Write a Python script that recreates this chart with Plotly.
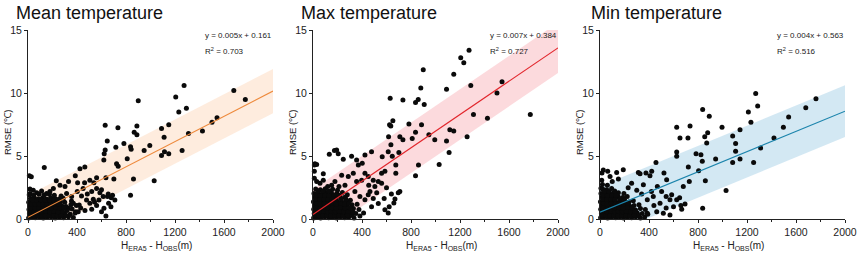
import plotly.graph_objects as go

# ---------------- data ----------------
panel_titles = ["Mean temperature", "Max temperature", "Min temperature"]
eq_texts = ["y = 0.005x + 0.161", "y = 0.007x + 0.384", "y = 0.004x + 0.563"]
r2_texts = ["0.703", "0.727", "0.516"]
fit_slope = [0.0050, 0.0066, 0.0040]
fit_intercept = [0.161, 0.384, 0.563]
band_half = [1.75, 2.0, 2.05]
x_ticks = [0, 400, 800, 1200, 1600, 2000]
y_ticks = [0, 5, 10, 15]

mean_points = [
    (1274, 10.6), (1680, 10.2), (1774, 9.5), (1206, 9.7), (900, 9.4), (1293, 8.8), (1231, 8.5),
    (630, 7.45), (734, 7.26), (889, 7.4), (1149, 7.5), (1090, 7.2), (867, 6.9), (889, 6.7),
    (647, 6.2), (1111, 6.5), (1310, 6.8), (1424, 7.0), (1502, 7.7), (1543, 8.05), (783, 6.0),
    (837, 5.75), (842, 5.55), (994, 5.85), (948, 5.45), (630, 5.5), (622, 5.2), (717, 5.7),
    (619, 4.7), (723, 4.4), (736, 4.2), (810, 4.8), (1090, 5.05), (1114, 5.35), (1149, 5.2),
    (1258, 5.45), (1030, 3.06), (861, 3.2), (701, 3.2), (636, 3.3), (837, 1.9), (636, 0.27),
    (133, 4.1), (464, 4.15), (424, 4.0), (11, 3.46), (27, 3.38), (505, 3.1), (462, 2.9),
    (386, 3.46), (405, 2.9), (331, 3.0), (261, 2.7), (231, 3.06), (560, 3.3), (538, 2.9),
    (560, 2.45), (587, 2.1), (579, 1.53), (614, 1.8), (649, 1.8), (658, 1.27), (677, 1.0),
    (709, 1.53), (620, 0.87), (505, 1.27), (478, 1.53), (437, 1.85), (402, 2.2), (356, 1.8),
    (315, 2.05), (288, 1.66), (418, 1.14), (465, 0.69), (484, 2.0), (533, 1.58), (543, 1.37),
    (370, 1.27), (329, 0.87), (302, 2.6), (207, 2.45), (179, 2.2), (152, 2.05), (111, 2.25),
    (71, 2.1), (43, 2.3), (16, 2.4), (16, 2.05), (680, 1.7), (690, 1.9), (655, 2.0), (600, 2.35),
    (520, 2.2), (450, 2.45), (390, 0.6), (430, 0.9), (520, 0.8), (560, 1.1), (600, 0.6),
]
mean_dense = [
    (5, 0.1), (30, 0.2), (60, 0.12), (92, 0.18), (125, 0.1), (158, 0.15), (190, 0.2), (222, 0.1),
    (255, 0.18), (290, 0.12), (330, 0.2), (370, 0.15),
    (12, 0.45), (40, 0.5), (70, 0.42), (100, 0.48), (132, 0.4), (165, 0.5), (198, 0.45), (230, 0.42),
    (262, 0.5), (300, 0.45), (345, 0.4), (385, 0.5),
    (8, 0.78), (30, 0.72), (58, 0.8), (88, 0.75), (118, 0.7), (150, 0.8), (182, 0.75), (215, 0.72),
    (248, 0.8), (280, 0.75), (320, 0.7), (360, 0.82), (410, 0.6),
    (15, 1.05), (45, 1.1), (75, 1.02), (105, 1.08), (138, 1.0), (170, 1.1), (205, 1.05), (240, 1.0),
    (275, 1.08), (310, 1.02), (350, 1.15), (395, 1.1),
    (6, 1.35), (36, 1.4), (66, 1.32), (98, 1.38), (130, 1.3), (160, 1.42), (195, 1.35), (232, 1.3),
    (265, 1.4), (300, 1.35), (355, 1.45),
    (20, 1.65), (52, 1.7), (85, 1.62), (118, 1.68), (150, 1.6), (185, 1.7), (220, 1.65), (255, 1.6),
    (10, 1.95), (45, 1.9), (90, 2.0), (130, 1.92), (175, 1.98), (215, 1.9), (270, 1.85),
    (18, 0.3), (48, 0.28), (78, 0.32), (110, 0.3), (142, 0.28), (175, 0.32), (208, 0.3), (240, 0.28),
    (272, 0.32), (312, 0.3), (20, 0.62), (50, 0.6), (82, 0.64), (112, 0.6), (145, 0.62), (178, 0.6),
    (210, 0.64), (245, 0.6), (282, 0.62), (25, 0.92), (60, 0.9), (90, 0.94), (122, 0.9), (155, 0.92),
    (190, 0.9), (225, 0.94), (258, 0.9), (295, 0.92), (28, 1.22), (58, 1.2), (90, 1.24), (120, 1.2),
    (152, 1.22), (185, 1.2), (218, 1.24), (252, 1.2), (35, 1.52), (70, 1.5), (105, 1.54), (140, 1.5),
    (175, 1.52), (210, 1.5), (240, 1.52),
]

max_points = [
    (1274, 13.4), (1206, 12.8), (1231, 12.4), (900, 11.85), (1149, 11.5), (1543, 10.9), (1090, 10.3),
    (880, 10.4), (1288, 10.6), (1502, 10.0), (630, 9.6), (859, 9.5), (734, 9.45), (908, 9.1),
    (837, 9.25), (1310, 8.3), (1424, 8.0), (1774, 8.3), (652, 7.8), (625, 7.5), (635, 7.4),
    (783, 7.55), (886, 7.5), (617, 6.55), (709, 6.55), (734, 6.3), (810, 6.4), (837, 6.9),
    (946, 6.7), (994, 6.3), (1090, 6.2), (1117, 7.1), (1149, 7.0), (1258, 6.55), (1111, 5.3),
    (1030, 4.35), (861, 4.3), (837, 3.45), (636, 5.9), (647, 5.0), (614, 5.35), (701, 5.3),
    (676, 4.3), (676, 3.65), (709, 2.2), (696, 2.1), (669, 1.6), (622, 1.0), (660, 1.3),
    (581, 1.65), (560, 2.85), (587, 3.8), (560, 3.65), (565, 4.95), (478, 5.35), (424, 5.1),
    (402, 4.45), (370, 4.3), (356, 4.7), (315, 5.0), (247, 4.75), (206, 5.2), (193, 5.5),
    (133, 5.15), (175, 5.45), (16, 4.4), (30, 4.35), (84, 3.6), (413, 0.5), (383, 0.26),
    (465, 2.2), (505, 2.6), (533, 3.0), (492, 3.1), (451, 3.4), (424, 3.65), (397, 3.1),
    (356, 3.0), (329, 3.65), (288, 3.4), (261, 2.7), (234, 3.5), (212, 2.6), (179, 3.0),
    (152, 2.7), (120, 2.6), (84, 3.1), (57, 2.85), (30, 3.0), (11, 3.25), (11, 3.8), (11, 4.3),
    (342, 2.2), (383, 1.8), (424, 1.55), (451, 1.95), (492, 1.65), (533, 1.25), (478, 1.0),
    (587, 0.75), (614, 0.5), (520, 2.1), (455, 2.7), (600, 2.5), (640, 2.0),
]
max_dense = [
    (5, 0.1), (32, 0.18), (62, 0.1), (95, 0.2), (128, 0.12), (160, 0.18), (192, 0.1), (225, 0.2),
    (258, 0.12), (292, 0.18), (335, 0.1),
    (10, 0.45), (40, 0.5), (72, 0.42), (104, 0.5), (136, 0.44), (168, 0.5), (200, 0.42), (234, 0.48),
    (268, 0.44), (305, 0.5), (350, 0.45),
    (6, 0.8), (34, 0.75), (64, 0.82), (96, 0.74), (126, 0.8), (158, 0.76), (190, 0.82), (222, 0.75),
    (255, 0.8), (290, 0.74), (330, 0.85), (375, 0.78),
    (14, 1.1), (46, 1.05), (78, 1.12), (110, 1.04), (142, 1.1), (174, 1.06), (208, 1.12), (242, 1.05),
    (278, 1.1), (318, 1.15), (360, 1.2),
    (4, 1.4), (36, 1.45), (68, 1.38), (100, 1.44), (132, 1.36), (166, 1.45), (200, 1.4), (236, 1.38),
    (272, 1.46), (305, 1.5),
    (18, 1.75), (50, 1.7), (82, 1.78), (116, 1.7), (150, 1.76), (186, 1.72), (222, 1.8), (260, 1.75),
    (8, 2.05), (40, 2.1), (75, 2.02), (110, 2.08), (150, 2.1), (195, 2.05), (240, 2.12),
    (22, 2.4), (60, 2.35), (100, 2.42), (160, 2.38),
    (18, 0.3), (48, 0.28), (78, 0.32), (112, 0.3), (145, 0.28), (178, 0.32), (210, 0.3), (245, 0.28),
    (280, 0.32), (320, 0.3), (22, 0.62), (55, 0.6), (88, 0.64), (118, 0.6), (150, 0.62), (182, 0.6),
    (215, 0.64), (250, 0.6), (285, 0.62), (325, 0.6), (25, 0.92), (58, 0.9), (90, 0.94), (122, 0.9),
    (155, 0.92), (190, 0.9), (225, 0.94), (262, 0.9), (300, 0.92), (28, 1.25), (60, 1.22),
    (92, 1.26), (125, 1.22), (158, 1.25), (190, 1.22), (225, 1.26), (258, 1.22), (292, 1.28),
    (22, 1.58), (55, 1.56), (88, 1.6), (122, 1.56), (155, 1.6), (190, 1.56), (230, 1.6), (270, 1.58),
    (25, 1.9), (60, 1.88), (95, 1.92), (130, 1.88), (170, 1.92), (210, 1.9), (280, 1.95),
    (40, 2.25), (80, 2.22), (130, 2.25), (200, 2.3),
]

min_points = [
    (1271, 9.97), (1763, 9.55), (1680, 8.83), (1287, 8.97), (1211, 8.5), (838, 8.7), (892, 8.17),
    (1232, 7.7), (1540, 8.1), (1497, 7.3), (1143, 7.1), (996, 7.3), (735, 7.4), (626, 7.3),
    (718, 6.45), (653, 6.45), (879, 6.85), (1083, 6.6), (855, 6.55), (871, 6.05), (1107, 6.0),
    (1420, 6.45), (1311, 5.65), (626, 5.33), (626, 5.0), (784, 5.2), (824, 5.12), (835, 4.6),
    (1107, 5.4), (1083, 4.5), (1143, 4.77), (944, 4.77), (1254, 4.5), (721, 4.14), (457, 4.5),
    (805, 3.85), (1029, 2.28), (860, 3.05), (729, 3.0), (680, 2.6), (838, 0.88), (694, 1.22),
    (667, 0.8), (585, 1.94), (571, 1.54), (626, 1.54), (544, 3.13), (522, 3.66),
    (408, 3.45), (422, 3.8), (375, 3.66), (313, 3.71), (327, 3.6), (190, 3.92), (136, 3.7),
    (63, 3.8), (27, 3.9), (16, 3.66), (82, 3.4), (14, 3.1), (8, 2.47), (258, 2.86), (354, 2.73),
    (468, 2.6), (503, 2.2), (435, 1.8), (386, 1.54), (490, 1.27), (463, 0.6), (517, 0.48),
    (571, 0.35), (386, 0.48), (300, 2.3), (230, 2.5), (420, 2.2), (540, 1.8), (600, 1.0),
    (650, 1.7), (660, 1.1), (540, 0.9), (440, 1.1), (340, 2.0), (150, 3.2), (100, 3.0),
]
min_dense = [
    (5, 0.12), (32, 0.2), (62, 0.1), (95, 0.18), (128, 0.12), (160, 0.2), (192, 0.1), (225, 0.18),
    (258, 0.12), (292, 0.2), (330, 0.1), (365, 0.18),
    (12, 0.45), (42, 0.5), (72, 0.42), (104, 0.5), (136, 0.44), (168, 0.5), (200, 0.42), (234, 0.48),
    (268, 0.44), (305, 0.5), (345, 0.45), (390, 0.4),
    (6, 0.8), (34, 0.75), (64, 0.82), (96, 0.74), (126, 0.8), (158, 0.76), (190, 0.82), (222, 0.75),
    (255, 0.8), (290, 0.74), (330, 0.85), (370, 0.78),
    (14, 1.1), (46, 1.05), (78, 1.12), (110, 1.04), (142, 1.1), (174, 1.06), (208, 1.12), (242, 1.05),
    (278, 1.1), (318, 1.15),
    (4, 1.4), (36, 1.45), (68, 1.38), (100, 1.44), (132, 1.36), (166, 1.45), (200, 1.4), (236, 1.38),
    (272, 1.46),
    (18, 1.75), (50, 1.7), (82, 1.78), (116, 1.7), (150, 1.76), (186, 1.72), (222, 1.8),
    (8, 2.05), (40, 2.1), (75, 2.02), (110, 2.08), (150, 2.1), (195, 2.05),
    (22, 2.4), (55, 2.35), (95, 2.45), (20, 2.75), (60, 2.7),
    (18, 0.3), (48, 0.28), (78, 0.32), (112, 0.3), (145, 0.28), (178, 0.32), (210, 0.3), (245, 0.28),
    (280, 0.32), (315, 0.3), (22, 0.62), (55, 0.6), (88, 0.64), (118, 0.6), (150, 0.62), (182, 0.6),
    (215, 0.64), (250, 0.6), (285, 0.62), (25, 0.92), (58, 0.9), (90, 0.94), (122, 0.9),
    (155, 0.92), (190, 0.9), (225, 0.94), (262, 0.9), (28, 1.25), (60, 1.22), (92, 1.26),
    (125, 1.22), (158, 1.25), (190, 1.22), (225, 1.26), (22, 1.58), (55, 1.56), (88, 1.6),
    (122, 1.56), (160, 1.6), (200, 1.56), (25, 1.9), (60, 1.88), (95, 1.92), (130, 1.88),
    (35, 2.2), (75, 2.2), (120, 2.25),
]

panel_points = [mean_points + mean_dense, max_points + max_dense, min_points + min_dense]

band_colors = ["rgba(253,226,205,0.65)", "rgba(251,205,210,0.75)", "rgba(200,226,240,0.8)"]
line_colors = ["#ee8a3c", "#e2262c", "#1b84ac"]

# ---------------- layout geometry ----------------
W, H = 858, 257
x_px = [(28, 273), (313, 558), (600, 845)]
y_top, y_bot = 30, 219.3
title_x = [14, 299, 589]

fig = go.Figure()
FONT = "Arial, Liberation Sans, Helvetica, sans-serif"

for i in range(3):
    xa = "x" if i == 0 else f"x{i+1}"
    ya = "y" if i == 0 else f"y{i+1}"
    xs = [0, 2000]
    fit = [fit_slope[i] * x + fit_intercept[i] for x in xs]
    lo = [v - band_half[i] for v in fit]
    hi = [v + band_half[i] for v in fit]
    fig.add_trace(go.Scatter(x=xs, y=lo, mode="lines", line=dict(width=0, color=band_colors[i]),
                             xaxis=xa, yaxis=ya, showlegend=False, hoverinfo="skip"))
    fig.add_trace(go.Scatter(x=xs, y=hi, mode="lines", line=dict(width=0, color=band_colors[i]),
                             fill="tonexty", fillcolor=band_colors[i],
                             xaxis=xa, yaxis=ya, showlegend=False, hoverinfo="skip"))
    pts = panel_points[i]
    fig.add_trace(go.Scatter(x=[p[0] for p in pts], y=[p[1] for p in pts], mode="markers",
                             marker=dict(size=5, color="#0a0a0a", line=dict(width=0)),
                             xaxis=xa, yaxis=ya, showlegend=False, cliponaxis=False))
    fig.add_trace(go.Scatter(x=xs, y=fit, mode="lines", line=dict(width=1.1, color=line_colors[i]),
                             xaxis=xa, yaxis=ya, showlegend=False))

    x0, x1 = x_px[i]
    axis_common = dict(showline=True, linecolor="#222", linewidth=1, mirror=False,
                       showgrid=False, zeroline=False, ticks="outside", ticklen=3,
                       automargin=False,
                       tickcolor="#222", tickfont=dict(family=FONT, size=10.5, color="#222"))
    fig.layout[f"xaxis{'' if i == 0 else i+1}"] = dict(
        domain=[x0 / W, x1 / W], range=[0, 2000], anchor=ya, tickvals=x_ticks,
        minor=dict(ticks="outside", ticklen=2, dtick=200, tickcolor="#222"), **axis_common)
    fig.layout[f"yaxis{'' if i == 0 else i+1}"] = dict(
        domain=[1 - y_bot / H, 1 - y_top / H], range=[0, 15], anchor=xa, tickvals=y_ticks,
        **axis_common)

    # panel title
    fig.add_annotation(text=panel_titles[i], xref="paper", yref="paper", x=title_x[i] / W,
                       y=1 - 1 / H, xanchor="left", yanchor="top", showarrow=False,
                       font=dict(family=FONT, size=18, color="#111"))
    # equation
    fig.add_annotation(text=eq_texts[i], xref=xa, yref=ya, x=1430, y=14.6, xanchor="left",
                       yanchor="middle", showarrow=False, font=dict(family=FONT, size=8, color="#222"))
    fig.add_annotation(text="R<sup>2</sup> = " + r2_texts[i], xref=xa, yref=ya, x=1430, y=13.3,
                       xanchor="left", yanchor="middle", showarrow=False,
                       font=dict(family=FONT, size=8, color="#222"))
    # axis titles
    fig.add_annotation(text="RMSE (℃)", xref="paper", yref="paper", x=(x0 - 21) / W,
                       y=1 - 133 / H, textangle=-90, xanchor="center", yanchor="middle",
                       showarrow=False, font=dict(family=FONT, size=9.5, color="#222"))
    fig.add_annotation(text="H<sub>ERA5</sub> - H<sub>OBS</sub>(m)", xref="paper", yref="paper",
                       x=(x0 + x1) / 2 / W + 6 / W, y=1 - 246 / H, xanchor="center",
                       yanchor="middle", showarrow=False,
                       font=dict(family=FONT, size=10, color="#222"))

fig.update_layout(width=W, height=H, margin=dict(l=0, r=0, t=0, b=0),
                  paper_bgcolor="white", plot_bgcolor="white")

fig.write_html("out.html", config={"displayModeBar": False},
               post_script="document.body.style.margin='0px';document.body.style.overflow='hidden';")
